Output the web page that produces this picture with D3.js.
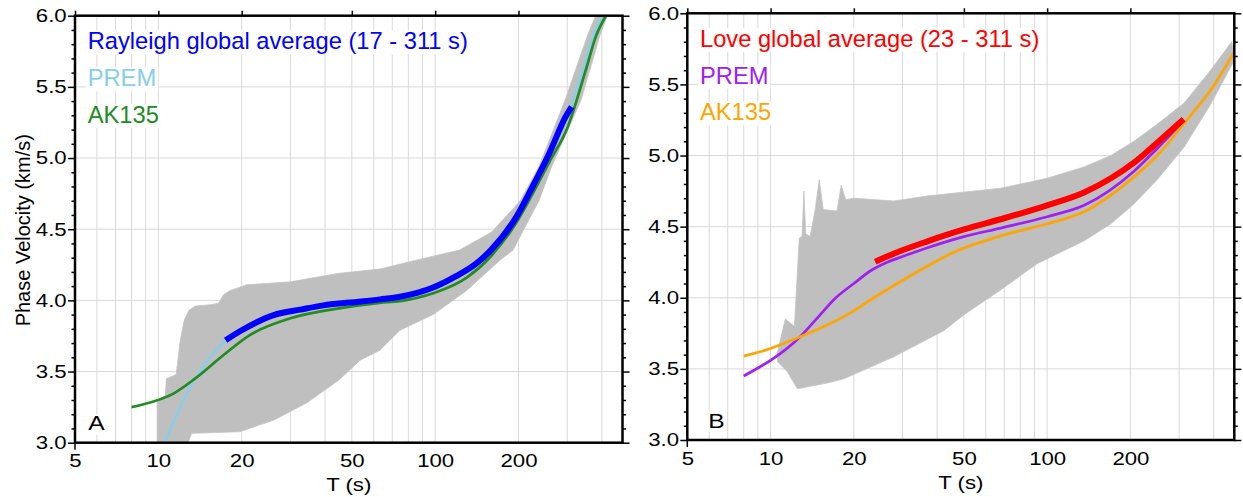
<!DOCTYPE html>
<html>
<head>
<meta charset="utf-8">
<script src="https://cdn.jsdelivr.net/npm/d3@7"></script>
<style>
  body { margin: 0; background: #fff; }
  text { font-family: "Liberation Sans", Arial, Helvetica, sans-serif; }
</style>
</head>
<body>
<svg id="chart"></svg>
<script>
// Svg element dimensions
const width = 1243;
const height = 497;

// Axis values
const periodTicks = [5, 10, 20, 50, 100, 200];
const periodGrid = [6, 7, 8, 9, 10, 20, 30, 40, 50, 60, 70, 80, 90, 100, 200, 300, 400];
const velocityTicks = [3.0, 3.5, 4.0, 4.5, 5.0, 5.5, 6.0];
const velocityMinor = [3.1, 3.2, 3.3, 3.4, 3.6, 3.7, 3.8, 3.9, 4.1, 4.2, 4.3, 4.4,
  4.6, 4.7, 4.8, 4.9, 5.1, 5.2, 5.3, 5.4, 5.6, 5.7, 5.8, 5.9];

// --- Panel A: Rayleigh ---
const rayAvgT = [17.5, 20, 26.1, 32.6, 39.5, 49.3, 63.2, 74.6, 98.3, 119, 141, 159, 197, 225, 258, 296, 311];
const rayAvgV = [3.72, 3.79, 3.897, 3.935, 3.965, 3.985, 4.007, 4.025, 4.09, 4.17, 4.26, 4.353, 4.59, 4.80, 5.03, 5.29, 5.36];

const rayPremT = [10.45, 12, 13.6, 15.8, 17.5, 26, 40, 63, 98, 159, 225, 296, 342, 380, 408];
const rayPremV = [2.98, 3.25, 3.452, 3.63, 3.72, 3.89, 3.96, 4.0, 4.085, 4.35, 4.79, 5.27, 5.62, 5.9, 6.02];

const rayAkT = [8, 8.64, 11.38, 13.6, 17.2, 21.4, 30, 44.9, 63.2, 74.6, 98.3, 130, 159, 197, 225, 258, 301.5, 349, 381.5, 414];
const rayAkV = [3.25, 3.265, 3.347, 3.452, 3.616, 3.756, 3.874, 3.944, 3.983, 3.995, 4.05, 4.16, 4.31, 4.55, 4.75, 4.97, 5.22, 5.61, 5.86, 6.0];

// envelope of the individual measured curves (grey)
const rayUpT = [9.9, 9.9, 10.6, 10.7, 11.6, 12.0, 12.4, 12.9, 13.6, 15.5, 16.5, 17.2, 18.2, 20.9, 30, 45, 63, 98, 122.5, 160, 203, 237, 295, 357, 390];
const rayUpV = [2.95, 3.30, 3.33, 3.45, 3.48, 3.72, 3.86, 3.93, 3.96, 3.97, 3.98, 4.04, 4.07, 4.11, 4.13, 4.19, 4.22, 4.31, 4.353, 4.48, 4.70, 4.94, 5.41, 5.875, 6.05];
const rayLoT = [12.5, 13.2, 19.7, 26.2, 34.4, 44.9, 53.6, 63.2, 74.6, 98.3, 130, 171, 191, 237, 263.5, 337, 392, 428];
const rayLoV = [2.95, 3.066, 3.077, 3.16, 3.28, 3.44, 3.58, 3.65, 3.79, 3.90, 4.07, 4.28, 4.353, 4.70, 4.94, 5.41, 5.85, 6.05];

// --- Panel B: Love ---
const loveAvgT = [23.9, 28.7, 36.7, 50, 67.9, 100, 136, 170, 206, 250, 311.5];
const loveAvgV = [4.254, 4.32, 4.395, 4.48, 4.552, 4.65, 4.74, 4.84, 4.95, 5.09, 5.255];

const lovePremT = [8, 9.17, 10, 12.8, 15.1, 17, 20, 23, 26.4, 30, 36.7, 50, 67.9, 100, 136, 206, 250, 311];
const lovePremV = [3.45, 3.515, 3.56, 3.726, 3.88, 3.99, 4.10, 4.19, 4.25, 4.29, 4.35, 4.43, 4.49, 4.57, 4.65, 4.89, 5.05, 5.24];

const loveAkT = [8, 9.17, 12.8, 15.1, 18.4, 25, 36.7, 46, 67.9, 100, 136, 206, 250, 313, 400, 475];
const loveAkV = [3.59, 3.62, 3.726, 3.785, 3.867, 4.03, 4.22, 4.32, 4.435, 4.52, 4.605, 4.85, 5.0, 5.227, 5.49, 5.73];

const loveUpT = [10.6, 11.3, 12.2, 12.7, 13.0, 13.2, 13.4, 13.9, 14.5, 15.0, 15.5, 17.4, 18.0, 18.7, 20.0, 27.9, 36.7, 67.9, 100, 136, 170, 206, 250, 313, 390, 465];
const loveUpV = [3.62, 3.85, 3.80, 4.42, 4.43, 4.75, 4.45, 4.43, 4.62, 4.83, 4.62, 4.61, 4.79, 4.69, 4.70, 4.68, 4.715, 4.77, 4.84, 4.92, 5.0, 5.10, 5.22, 5.37, 5.6, 5.80];
const loveLoT = [10.6, 11.5, 12.5, 16.0, 18.4, 27.9, 42.4, 50, 67.9, 92, 136, 170, 206, 250, 313, 390, 475];
const loveLoV = [3.55, 3.48, 3.36, 3.40, 3.43, 3.585, 3.77, 3.88, 4.055, 4.24, 4.40, 4.52, 4.66, 4.83, 5.06, 5.36, 5.67];

const svg = d3.select("#chart").attr("width", width).attr("height", height);
const font = '"Liberation Sans", Arial, Helvetica, sans-serif';
const stretch = 1.2; // labels in the figure are a bit wider than tall

const zip = (ts, vs) => ts.map((t, i) => [t, vs[i]]);

function drawPanel(p) {
  const x = d3.scaleLog().domain([5, 475]).range([0, p.w]);
  const y = d3.scaleLinear().domain([3, 6]).range([p.h, 0]);

  const g = svg.append("g").attr("transform", `translate(${p.left}, ${p.top})`);

  g.append("clipPath").attr("id", "clip" + p.id)
    .append("rect").attr("width", p.w).attr("height", p.h);

  // grid lines
  g.selectAll(".vgrid").data(periodGrid).enter().append("line")
    .attr("x1", d => x(d)).attr("x2", d => x(d))
    .attr("y1", 0).attr("y2", p.h)
    .attr("stroke", "#d9d9d9").attr("stroke-width", 1);
  g.selectAll(".hgrid").data(velocityTicks.slice(1, -1)).enter().append("line")
    .attr("x1", 0).attr("x2", p.w)
    .attr("y1", d => y(d)).attr("y2", d => y(d))
    .attr("stroke", "#d9d9d9").attr("stroke-width", 1);

  // legend text with white boxes behind
  p.legend.forEach((item, i) => {
    const t = g.append("text")
      .attr("x", 12.7).attr("y", 33.7 + i * 36.7)
      .attr("fill", item.color)
      .style("font-size", "23.7px")
      .text(item.text);
    const b = t.node().getBBox();
    g.insert("rect", "text")
      .attr("x", b.x - 2).attr("y", b.y + 2)
      .attr("width", b.width + 4).attr("height", b.height - 2)
      .attr("fill", "#fff");
  });

  // panel letter
  const lt = g.append("text")
    .attr("transform", `translate(${p.letterX}, ${p.h - 12.5}) scale(${stretch}, 1)`)
    .style("font-size", "20.5px")
    .text(p.letter);
  const lb = lt.node().getBBox();
  g.insert("rect", "text")
    .attr("x", p.letterX - 2).attr("y", p.h - 12.5 + lb.y + 2)
    .attr("width", lb.width * stretch + 4).attr("height", lb.height - 2)
    .attr("fill", "#fff");

  const plot = g.append("g").attr("clip-path", `url(#clip${p.id})`);

  // grey band of individual dispersion curves
  const bandPts = zip(p.upT, p.upV).concat(zip(p.loT, p.loV).reverse());
  plot.append("path")
    .attr("d", d3.line().x(d => x(d[0])).y(d => y(d[1]))(bandPts) + "Z")
    .attr("fill", "#bfbfbf")
    .attr("stroke", "#c4c4c4")
    .attr("stroke-width", 0.8);

  const line = d3.line().x(d => x(d[0])).y(d => y(d[1])).curve(d3.curveMonotoneX);
  p.lines.forEach(l => {
    plot.append("path")
      .attr("d", line(zip(l.T, l.V)))
      .attr("fill", "none")
      .attr("stroke", l.color)
      .attr("stroke-width", l.width);
  });

  // axes
  const styleAxis = (sel) => {
    sel.select(".domain").remove();
    sel.selectAll(".tick line").attr("stroke", "#000").attr("stroke-width", 1.5);
    sel.selectAll("text").each(function () {
      const t = d3.select(this);
      const tx = +t.attr("x") || 0;
      t.attr("x", 0)
        .attr("transform", `translate(${tx}, 0) scale(${stretch}, 1)`)
        .attr("fill", "#000")
        .style("font-size", "18.5px").style("font-family", font);
    });
  };

  g.append("g").call(d3.axisLeft(y).tickValues(velocityTicks).tickSize(7).tickPadding(1.3).tickFormat(d3.format(".1f"))).call(styleAxis);
  g.append("g").call(d3.axisLeft(y).tickValues(velocityMinor).tickSize(3.5).tickFormat("")).call(styleAxis);
  g.append("g").attr("transform", `translate(${p.w}, 0)`)
    .call(d3.axisRight(y).tickValues(velocityTicks).tickSize(7).tickFormat("")).call(styleAxis);
  g.append("g").attr("transform", `translate(${p.w}, 0)`)
    .call(d3.axisRight(y).tickValues(velocityMinor).tickSize(3.5).tickFormat("")).call(styleAxis);
  g.append("g").call(d3.axisTop(x).tickValues(periodTicks).tickSize(5).tickFormat("")).call(styleAxis);
  g.append("g").attr("transform", `translate(0, ${p.h})`)
    .call(d3.axisBottom(x).tickValues(periodTicks).tickSize(0).tickPadding(11.5).tickFormat(d3.format("d"))).call(styleAxis);

  // frame
  g.append("rect").attr("width", p.w).attr("height", p.h)
    .attr("fill", "none").attr("stroke", "#000").attr("stroke-width", 2.5);
  g.append("line").attr("x1", 0).attr("x2", 0).attr("y1", p.h).attr("y2", p.h + 7)
    .attr("stroke", "#000").attr("stroke-width", 1.5);

  // axis title
  g.append("text")
    .attr("transform", `translate(${p.w / 2}, ${p.h + 48.5}) scale(${stretch}, 1)`)
    .attr("text-anchor", "middle")
    .style("font-size", "18.5px")
    .text("T (s)");

  if (p.yLabel) {
    svg.append("text")
      .attr("transform", `translate(30, ${p.top + p.h / 2 + 1}) rotate(-90)`)
      .attr("text-anchor", "middle")
      .style("font-size", "20px")
      .text(p.yLabel);
  }
}

drawPanel({
  id: "A", left: 75, top: 15.7, w: 547.5, h: 427,
  upT: rayUpT, upV: rayUpV, loT: rayLoT, loV: rayLoV,
  lines: [
    { T: rayPremT, V: rayPremV, color: "#87ceeb", width: 2.5 },
    { T: rayAkT, V: rayAkV, color: "#228b22", width: 2.7 },
    { T: rayAvgT, V: rayAvgV, color: "#0000ff", width: 6 }
  ],
  legend: [
    { text: "Rayleigh global average (17 - 311 s)", color: "#0000ff" },
    { text: "PREM", color: "#87ceeb" },
    { text: "AK135", color: "#228b22" }
  ],
  letter: "A", letterX: 13.3,
  yLabel: "Phase Velocity (km/s)"
});

drawPanel({
  id: "B", left: 687.3, top: 13.3, w: 547, h: 426.7,
  upT: loveUpT, upV: loveUpV, loT: loveLoT, loV: loveLoV,
  lines: [
    { T: lovePremT, V: lovePremV, color: "#a020f0", width: 2.7 },
    { T: loveAkT, V: loveAkV, color: "#ffa500", width: 2.7 },
    { T: loveAvgT, V: loveAvgV, color: "#ff0000", width: 6 }
  ],
  legend: [
    { text: "Love global average (23 - 311 s)", color: "#ff0000" },
    { text: "PREM", color: "#a020f0" },
    { text: "AK135", color: "#ffa500" }
  ],
  letter: "B", letterX: 21,
  yLabel: null
});
</script>
</body>
</html>
